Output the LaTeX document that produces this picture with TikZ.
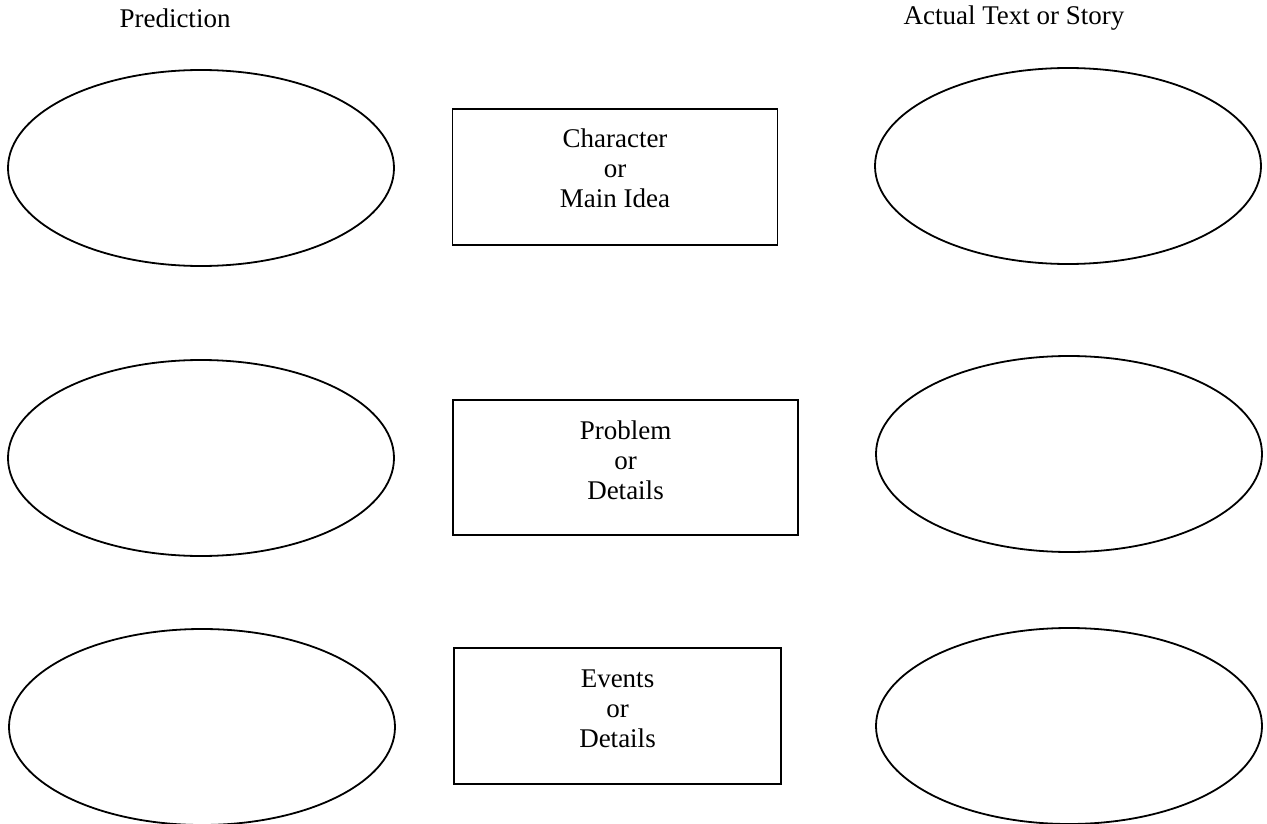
\documentclass[tikz,border=0pt]{standalone}
\usepackage{fontspec}
\setmainfont{Liberation Serif}
\usetikzlibrary{shapes.geometric,positioning}

\begin{document}
\begin{tikzpicture}[x=1pt,y=-1pt,line width=1.8pt,font=\fontsize{27}{30}\selectfont]
\tikzstyle{guess}=[draw,ellipse,minimum width=386pt,minimum height=196pt,inner sep=0pt]
\tikzstyle{panel}=[draw,rectangle,inner sep=0pt]
\tikzstyle{caption}=[align=center,inner sep=0pt]
\useasboundingbox (0,0) rectangle (1267,824);
\node [anchor=base] (pred) at (175,28) {Prediction};
\node [anchor=base] (actual) at (1014,25) {Actual Text or Story};
% left column
\node [guess] (p1) at (201,168) {};
\node [guess] (p2) at (201,458) {};
\node [guess] (p3) at (202,727) {};
% right column
\node [guess] (a1) at (1068,166) {};
\node [guess] (a2) at (1069,454) {};
\node [guess] (a3) at (1069,726) {};
% middle boxes
\node [panel,minimum width=325pt,minimum height=136pt] (b1) at (615,177) {};
\node [panel,minimum width=345pt,minimum height=135pt] (b2) at (625.5,467.5) {};
\node [panel,minimum width=327pt,minimum height=136pt] (b3) at (617.5,716) {};
\node [caption,below=19.5pt of b1.north] (t1) {Character\\or\\Main Idea};
\node [caption,below=20.5pt of b2.north] (t2) {Problem\\or\\Details};
\node [caption,below=22pt of b3.north] (t3) {Events\\or\\Details};
\end{tikzpicture}
\end{document}
